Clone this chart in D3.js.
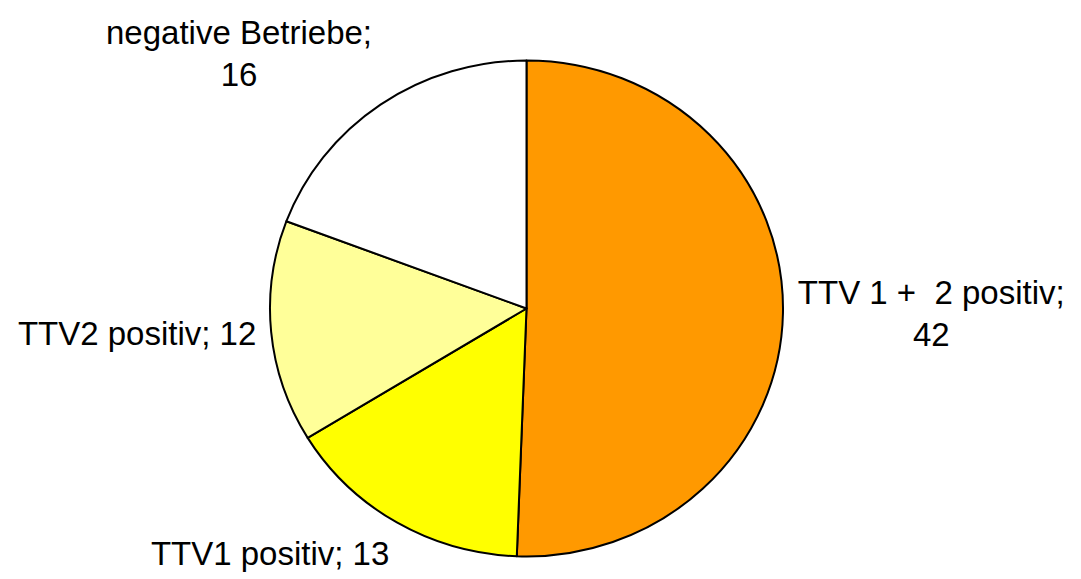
<!DOCTYPE html>
<html>
<head>
<meta charset="utf-8">
<script src="https://cdn.jsdelivr.net/npm/d3@7"></script>
<style>
  html, body { margin: 0; padding: 0; background: #fff; }
  svg { display: block; }
  text { font-family: "Liberation Sans", Arial, Helvetica, sans-serif; font-size: 33px; fill: #000; white-space: pre; }
</style>
</head>
<body>
<svg id="chart" width="1081" height="579"></svg>
<script>
const categories = ["TTV 1 +  2 positiv", "TTV1 positiv", "TTV2 positiv", "negative Betriebe"];
const values = [42, 13, 12, 16];
const colors = ["#FF9900", "#FFFF00", "#FFFF99", "#FFFFFF"];
// label line splitting (as in the original)
const labelLines = [
  ["TTV 1 +  2 positiv;", "42"],
  ["TTV1 positiv; 13"],
  ["TTV2 positiv; 12"],
  ["negative Betriebe;", "16"]
];

const W = 1081, H = 579;
const cx = 526.5, cy = 308.5;
const rx = 256.5, ry = 248;
const svg = d3.select("#chart");

const data = categories.map((c, i) => ({ name: c, value: values[i], color: colors[i], lines: labelLines[i] }));

const pie = d3.pie().sort(null).value(d => d.value);
const arcs = pie(data);
const arc = d3.arc().innerRadius(0).outerRadius(rx);

const g = svg.append("g")
  .attr("transform", `translate(${cx},${cy}) scale(1,${ry / rx})`);

g.selectAll("path")
  .data(arcs)
  .join("path")
  .attr("d", arc)
  .attr("fill", d => d.data.color)
  .attr("stroke", "#000")
  .attr("stroke-width", 2)
  .attr("stroke-linejoin", "round")
  .attr("vector-effect", "non-scaling-stroke");

// labels
const lineH = 42;
const labelR = 1.058;
arcs.forEach(a => {
  const mid = (a.startAngle + a.endAngle) / 2;
  const s = Math.sin(mid), c = Math.cos(mid);
  const px = cx + rx * labelR * s;
  const py = cy - ry * labelR * c;
  const grp = svg.append("g");
  const t = grp.append("text").attr("text-anchor", "middle");
  a.data.lines.forEach((ln, i) => {
    t.append("tspan").attr("x", 0).attr("y", i * lineH).text(ln);
  });
  const bb = t.node().getBBox();
  // horizontal: nearest edge touches the anchor point
  let bx = s >= 0 ? px - bb.x : px - (bb.x + bb.width);
  // vertical
  let by;
  if (c > 0.5) by = py - (bb.y + bb.height);
  else if (c < -0.5) by = py - bb.y;
  else by = py - (bb.y + bb.height / 2);
  grp.attr("transform", `translate(${bx},${by})`);
});
</script>
</body>
</html>
